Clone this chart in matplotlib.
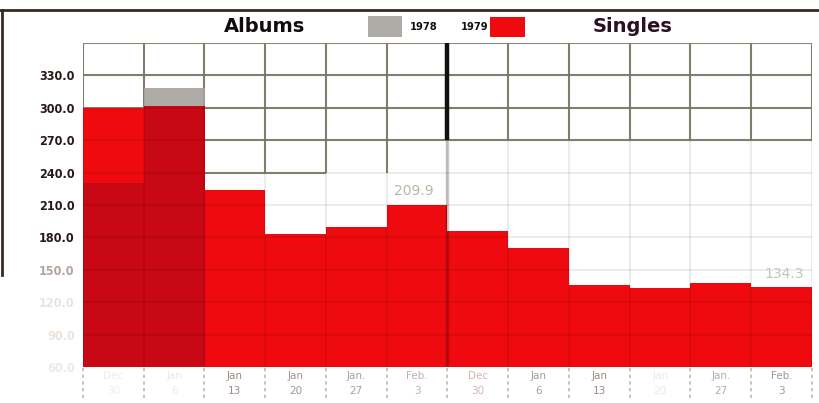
import numpy as np
import matplotlib.pyplot as plt
from matplotlib.patches import Rectangle
from matplotlib.lines import Line2D

# weekly sales index, albums then singles
weeks = ["Dec\n30", "Jan\n6", "Jan\n13", "Jan\n20", "Jan.\n27", "Feb.\n3"]
albums_1979 = [300.0, 302.0, 224.0, 183.0, 190.0, 209.9]
singles_1979 = [185.5, 170.0, 136.0, 133.0, 138.0, 134.3]
albums_1978 = [230.0, 318.0]
yticks = np.arange(60, 361, 30)

red = '#ee0a0f'
dark_red = '#c80814'
gray = '#aeaba6'
grid_col = '#8a8a74'

W, H = 819, 403
fig = plt.figure(figsize=(W / 100, H / 100), dpi=100)
ax = fig.add_axes([83 / W, 1 - 367 / H, (812 - 83) / W, (367 - 43) / H])

values = albums_1979 + singles_1979
x = np.arange(len(values))
ax.bar(x, np.array(values) - 60, bottom=60, width=1, align='edge',
       color=red, linewidth=0, zorder=2)

# 1978 albums: darker where it overlaps 1979, grey where it sticks out
for i, v in enumerate(albums_1978):
    lo = min(v, values[i])
    ax.bar(i, lo - 60, bottom=60, width=1, align='edge', color=dark_red,
           linewidth=0, zorder=2)
    if v > values[i]:
        ax.bar(i, v - values[i], bottom=values[i], width=1, align='edge',
               color=gray, linewidth=0, zorder=2)

ax.set_xlim(0, 12)
ax.set_ylim(60, 360)

# faint grid everywhere (shows through the bars too)
ax.vlines(range(0, 13), 60, 360, colors='k', alpha=0.09, lw=1.2, zorder=3)
ax.hlines(yticks[1:-1], 0, 12, colors='k', alpha=0.09, lw=1.2, zorder=3)
ax.vlines(6, 60, 270, colors='k', alpha=0.2, lw=2.5, zorder=3)

# solid grid in the upper part, behind the bars
ax.vlines(range(0, 13), 270, 360, colors=grid_col, lw=1.5, zorder=1)
ax.hlines([270, 300, 330, 360], 0, 12, colors=grid_col, lw=1.5, zorder=1)
ax.vlines([3, 4, 5], 240, 270, colors=grid_col, lw=1.5, zorder=1)
ax.hlines(240, 2, 4, colors=grid_col, lw=1.5, zorder=1)
ax.vlines(6, 270, 360, colors='#111111', lw=3.2, zorder=5)

for s in ax.spines.values():
    s.set_visible(False)

# little dashed ticks under the columns
ax.vlines(range(0, 13), 31, 59, colors='#b9bfa8', lw=1.2,
          linestyles=(0, (2, 2)), clip_on=False)

ax.set_yticks(yticks[:-1])
ax.set_yticklabels([f"{v:.1f}" for v in yticks[:-1]], fontsize=9,
                   fontweight='bold', fontstretch='condensed')
ycols = ['#f0e8e4', '#ebe2dc', '#ece2dc', '#b4a49c', '#2a1818', '#2a1818',
         '#2a1818', '#2a1818', '#2a1818', '#2a1818']
for lab, c in zip(ax.get_yticklabels(), ycols):
    lab.set_color(c)

ax.set_xticks(x + 0.5)
ax.set_xticklabels(weeks * 2, fontsize=7.5, linespacing=1.55)
xcols = ['#f2eaee', '#f0e6ec', '#9c8c84', '#a09490', '#aaa09c', '#c4b0ac',
         '#d8b4b0', '#a49c98', '#9c8c84', '#eee6e6', '#b4aca8', '#a09890']
for lab, c in zip(ax.get_xticklabels(), xcols):
    lab.set_color(c)
ax.tick_params(length=0, pad=6)
ax.tick_params(axis='x', pad=3)

ax.text(5.45, 209.9 + 13, "209.9", ha='center', va='center', fontsize=10,
        color='#b8b8a6', zorder=6)
ax.text(11.55, 134.3 + 12, "134.3", ha='center', va='center', fontsize=10,
        color='#c4c4b8', zorder=6)

# titles and legend
fig.text(265 / W, 1 - 27 / H, "Albums", ha='center', va='center',
         fontsize=14, fontweight='bold', color='#120c0c')
fig.text(633 / W, 1 - 27 / H, "Singles", ha='center', va='center',
         fontsize=14, fontweight='bold', color='#2a1020')
fig.add_artist(Rectangle((368 / W, 1 - 37 / H), 34 / W, 21 / H,
                         transform=fig.transFigure, color=gray, lw=0))
fig.add_artist(Rectangle((490 / W, 1 - 37 / H), 35 / W, 20 / H,
                         transform=fig.transFigure, color=red, lw=0))
fig.text(410 / W, 1 - 27 / H, "1978", ha='left', va='center', fontsize=8,
         fontweight='bold', fontstretch='condensed', color='#141010')
fig.text(488 / W, 1 - 27 / H, "1979", ha='right', va='center', fontsize=8,
         fontweight='bold', fontstretch='condensed', color='#141010')

# page borders
fig.add_artist(Line2D([0, 1], [1 - 10 / H] * 2, color='#3a2820', lw=2))
fig.add_artist(Line2D([1.5 / W] * 2, [1 - 10 / H, 1 - 275 / H],
                      color='#3a2820', lw=2))

fig.savefig('out.png', dpi=100)
